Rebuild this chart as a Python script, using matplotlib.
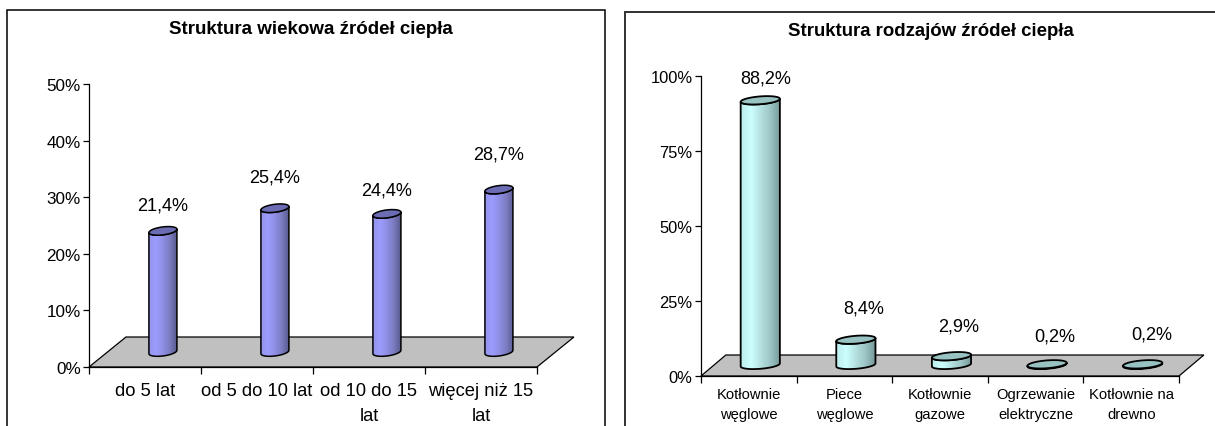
import matplotlib
matplotlib.use('Agg')
import matplotlib.pyplot as plt
import numpy as np
from matplotlib.colors import LinearSegmentedColormap
from matplotlib.patches import PathPatch, Polygon, Rectangle
from matplotlib.path import Path

plt.rcParams['font.family'] = ['Liberation Sans', 'DejaVu Sans']

# data
age_labels = ['do 5 lat', 'od 5 do 10 lat', 'od 10 do 15\nlat', 'więcej niż 15\nlat']
age_values = [21.4, 25.4, 24.4, 28.7]
age_ticks = [0, 10, 20, 30, 40, 50]

kind_labels = ['Kotłownie\nwęglowe', 'Piece\nwęglowe', 'Kotłownie\ngazowe',
               'Ogrzewanie\nelektryczne', 'Kotłownie na\ndrewno']
kind_values = [88.2, 8.4, 2.9, 0.2, 0.2]
kind_ticks = [0, 25, 50, 75, 100]

W, H = 1215, 427


def px_axes(fig, x0, x1, y0, y1):
    return fig.add_axes([x0 / W, 1 - y1 / H, (x1 - x0) / W, (y1 - y0) / H])


def ellipse(cx, cy, a, b, tilt, t):
    return cx + a * np.cos(t), cy + tilt * np.cos(t) + b * np.sin(t)


def cylinder(ax, cx, base, top, a, b, tilt, cmap, cap, lw):
    # body: bottom half of base ellipse, then back over the top
    t = np.linspace(np.pi, 2 * np.pi, 40)
    xb, yb = ellipse(cx, base, a, b, tilt, t)
    xt, yt = ellipse(cx, top, a, b, tilt, t[::-1])
    verts = np.column_stack([np.r_[xb, xt], np.r_[yb, yt]])
    body = PathPatch(Path(np.vstack([verts, verts[0]])), fc='none', ec='black',
                     lw=lw, zorder=4, clip_on=False, joinstyle='round')
    ax.add_patch(body)
    grad = np.linspace(0, 1, 64).reshape(1, -1)
    im = ax.imshow(grad, extent=[cx - a, cx + a, yb.min(), yt.max()], aspect='auto',
                   cmap=cmap, zorder=3, interpolation='bilinear')
    im.set_clip_path(body)
    t = np.linspace(0, 2 * np.pi, 80)
    xc, yc = ellipse(cx, top, a, b, tilt, t)
    ax.add_patch(Polygon(np.column_stack([xc, yc]), closed=True, fc=cap, ec='black',
                         lw=lw, zorder=5, clip_on=False))


def panel(ax, values, labels, ticks, ymax, floor_dx, floor_dy, shift, a, b, tilt, base,
          cmap, cap, label_pos, ytick_size, xtick_size, xpad, spacing, lw):
    n = len(values)
    ax.add_patch(Polygon([(0, 0), (n, 0), (n + floor_dx, floor_dy), (floor_dx, floor_dy)],
                         closed=True, fc='#c0c0c0', ec='black', lw=0.9, zorder=1, clip_on=False))
    for i, v in enumerate(values):
        cx = i + 0.5 + shift
        cylinder(ax, cx, base, base + v, a, b, tilt, cmap, cap, lw)
        ax.text(cx + label_pos[i][0], base + v + label_pos[i][1],
                f'{v:.1f}'.replace('.', ',') + '%', ha='center', va='center',
                fontsize=13.1, zorder=6)
    ax.set_xlim(0, n)
    ax.set_ylim(0, ymax)
    ax.patch.set_alpha(0)
    ax.set_yticks(ticks)
    ax.set_yticklabels([f'{t}%' for t in ticks], fontsize=ytick_size)
    ax.set_xticks(np.arange(n + 1))
    ax.set_xticklabels([])
    ax.set_xticks(np.arange(n) + 0.5, labels, minor=True, fontsize=xtick_size,
                  linespacing=spacing)
    ax.tick_params(axis='x', which='major', length=5, width=0.9, direction='out')
    ax.tick_params(axis='x', which='minor', length=0, pad=xpad)
    ax.tick_params(axis='y', length=4, width=0.9, pad=2)
    for s in ['top', 'right']:
        ax.spines[s].set_visible(False)
    for s in ['left', 'bottom']:
        ax.spines[s].set_linewidth(0.9)


fig = plt.figure(figsize=(W / 100, H / 100), dpi=100)

# chart frames run off the bottom (and right) of the picture
fig.add_artist(Rectangle((7 / W, -0.1), 598 / W, 1.1 - 11 / H, transform=fig.transFigure,
                         fc='none', ec='black', lw=1.1))
fig.add_artist(Rectangle((625 / W, -0.1), 700 / W, 1.1 - 12.5 / H, transform=fig.transFigure,
                         fc='none', ec='#303030', lw=1.4))

blue = LinearSegmentedColormap.from_list('b', ['#9494ee', '#9c9cff', '#8e8ee4', '#7c7cc0', '#5a5a90'])
teal = LinearSegmentedColormap.from_list('t', ['#bcecec', '#ccffff', '#b4e0e0', '#9cc4c4', '#749898'])

ax1 = px_axes(fig, 89, 537, 85, 368)
panel(ax1, age_values, age_labels, age_ticks, 50, 0.33, 5.3, 0.16, 0.125, 0.7, 0.3, 2.65,
      blue, '#6c6cb4', [(0, 4.6), (0, 5.6), (0, 4.3), (0, 6.2)], 12.3, 13.2, 11, 1.58, 1.1)

ax2 = px_axes(fig, 701, 1179, 77, 377)
panel(ax2, kind_values, kind_labels, kind_ticks, 100, 0.26, 7, 0.12, 0.205, 1.3, 0.5, 3.7,
      teal, '#99c2c2', [(0.06, 7.4), (0.08, 10.5), (0.07, 10), (0.08, 9.5), (0.09, 10)],
      11.9, 10.6, 8, 1.57, 1.3)

fig.text(311 / W, 1 - 30 / H, 'Struktura wiekowa źródeł ciepła', ha='center', va='center',
         fontsize=13.5, fontweight='bold')
fig.text(930.5 / W, 1 - 32 / H, 'Struktura rodzajów źródeł ciepła', ha='center', va='center',
         fontsize=13.4, fontweight='bold')

fig.savefig('out.png', dpi=100)
